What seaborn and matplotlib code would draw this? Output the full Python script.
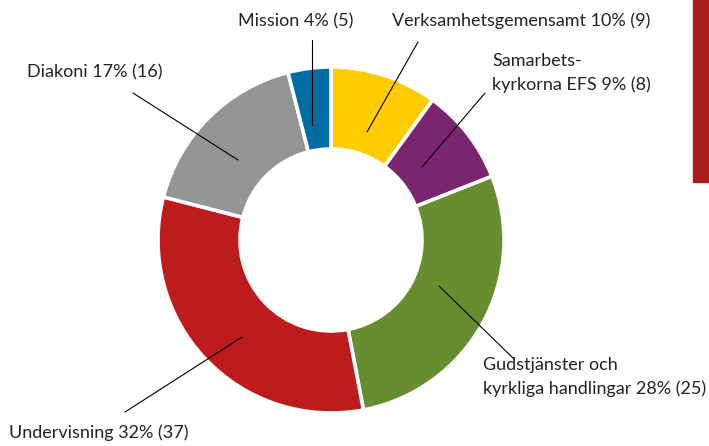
import seaborn as sns
import matplotlib.pyplot as plt
from matplotlib.patches import Rectangle

# data, clockwise from 12 o'clock
categories = ["Verksamhetsgemensamt", "Samarbets-\nkyrkorna EFS", "Gudstjänster och\nkyrkliga handlingar",
              "Undervisning", "Diakoni", "Mission"]
percent = [10, 9, 28, 32, 17, 4]
counts = [9, 8, 25, 37, 16, 5]
colors = ["#FFCC00", "#7A256F", "#668E31", "#BE1B1D", "#959595", "#006CA2"]

sns.set_theme(style="white")
plt.rcParams['font.family'] = ['Lato', 'DejaVu Sans']

W, H = 709, 446
fig = plt.figure(figsize=(W / 100, H / 100), dpi=100)
ax = fig.add_axes([0, 0, 1, 1])

# pie geometry in pixels (y measured from top)
cx, cy, R, r = 331, 240, 173, 91
ax.pie(percent, colors=colors, startangle=90, counterclock=False,
       center=(cx, H - cy), radius=R, frame=True,
       wedgeprops=dict(width=R - r, edgecolor="white", linewidth=2.6))
ax.set_xlim(0, W)
ax.set_ylim(0, H)
ax.set_aspect("equal")
ax.axis("off")

# label layout: text anchor (left, centre y) and leader line (from, to), pixels from top-left
label_pos = [(392, 21), (492, 73), (483, 377), (9, 433), (27, 72), (238, 21)]
line_from = [(418, 42), (485, 93), (514, 359), (125, 412), (133, 93), (312, 40)]
line_to = [(367, 132), (422, 167), (439, 286), (242, 337), (238, 160), (312, 125)]

for cat, p, n, (tx, ty), (x0, y0), (x1, y1) in zip(categories, percent, counts,
                                                    label_pos, line_from, line_to):
    ax.text(tx, H - ty, f"{cat} {p}% ({n})", ha="left", va="center",
            fontsize=13, color="#222222", linespacing=1.6)
    ax.plot([x0, x1], [H - y0, H - y1], color="black", linewidth=0.8)

# decorative bar at the right edge
fig.patches.append(Rectangle((693 / W, 1 - 182 / H), 16 / W, 182 / H,
                             transform=fig.transFigure, color="#A81C1C"))

fig.savefig("out.png", dpi=100)
